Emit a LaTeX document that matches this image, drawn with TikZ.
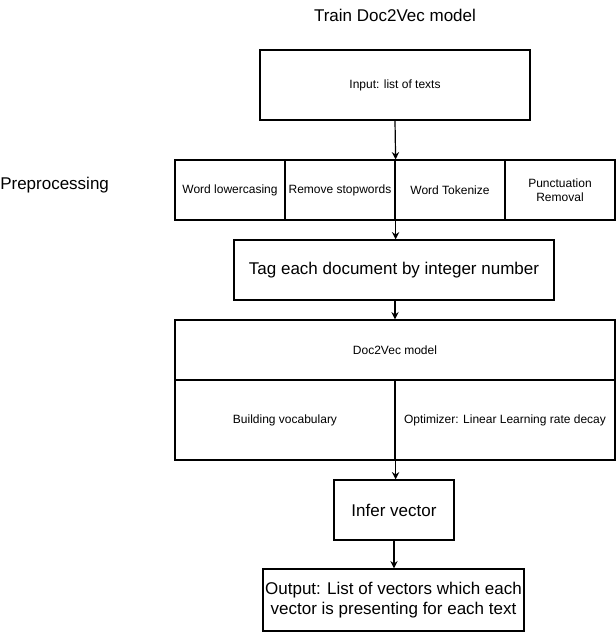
\documentclass[tikz,border=0pt]{standalone}
\usepackage{fontspec}
\setmainfont{Liberation Sans}
\usetikzlibrary{arrows.meta}
\begin{document}
\begin{tikzpicture}[x=0.75pt,y=-0.75pt,
  box/.style={draw,line width=0.9pt,inner sep=0pt,align=center},
  small/.style={font=\fontsize{9}{10.8}\selectfont},
  large/.style={font=\fontsize{12.75}{15.3}\selectfont},
  cell/.style={box,small,minimum width=82.5pt,minimum height=45pt},
  flow/.style={line width=0.9pt,-{Stealth[length=5.5pt,width=5.5pt]}}]
\useasboundingbox (0,0) rectangle (616,632);

% titles
\node[large] (title) at (395,15) {Train Doc2Vec model};
\node[large,anchor=west,inner sep=0pt] (prep) at (0,185) {Preprocessing};

% input
\node[box,small,minimum width=202.5pt,minimum height=52.5pt] (input) at (395,85) {Input: list of texts};

% preprocessing steps
\node[cell] (c1) at (230,190) {Word lowercasing};
\node[cell] (c2) at (340,190) {Remove stopwords};
\node[cell] (c3) at (450,190) {Word Tokenize};
\node[cell] (c4) at (560,190) {Punctuation\\Removal};

% tagging
\node[box,large,minimum width=240pt,minimum height=45pt] (tag) at (394,270) {Tag each document by integer number};

% Doc2Vec model block
\node[box,small,minimum width=330pt,minimum height=45pt] (doc) at (395,350) {Doc2Vec model};
\node[box,small,minimum width=165pt,minimum height=60pt] (b1) at (285,420) {Building vocabulary};
\node[box,small,minimum width=165pt,minimum height=60pt] (b2) at (505,420) {Optimizer: Linear Learning rate decay};

% inference and output
\node[box,large,minimum width=90pt,minimum height=45pt] (infer) at (394,510) {Infer vector};
\node[box,large,minimum width=195.75pt,minimum height=46.5pt] (out) at (393.5,600) {Output: List of vectors which each\\vector is presenting for each text};

% connectors
\draw[flow] (input.south) -- (c2.north east);
\draw[flow] (c2.south east) -- (c2.south east |- tag.north);
\draw[flow] (tag.south -| doc.north) -- (doc.north);
\draw[flow] (b1.south east) -- (b1.south east |- infer.north);
\draw[flow] (infer.south) -- (infer.south |- out.north);
\end{tikzpicture}
\end{document}
